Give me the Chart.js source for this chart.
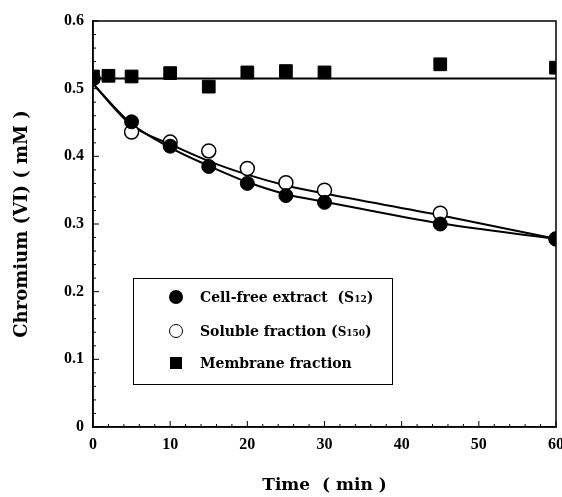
<!DOCTYPE html>
<html>
<head>
<meta charset="utf-8">
<script src="https://cdn.jsdelivr.net/npm/chart.js@4.4.1/dist/chart.umd.min.js"></script>
<style>
  html, body { margin: 0; padding: 0; background: #fff; }
  #wrap { position: relative; width: 562px; height: 497px; }
  #legend {
    position: absolute; left: 133px; top: 278px; width: 260px; height: 107px;
    border: 1.5px solid #000; box-sizing: border-box;
    font-family: "DejaVu Serif", serif; font-weight: bold; font-size: 14px; color: #000;
  }
  .row { position: absolute; left: 0; height: 20px; line-height: 20px; white-space: nowrap; }
  .mk { position: absolute; left: 35px; top: 3px; width: 14px; height: 14px; box-sizing: border-box; }
  .txt { position: absolute; left: 66px; top: 0; }
  .sub { font-size: 9px; }
</style>
</head>
<body>
<div id="wrap">
  <canvas id="chart" width="562" height="497"></canvas>
  <div id="legend">
    <div class="row" style="top:8px"><span class="mk" style="background:#000;border-radius:50%"></span><span class="txt">Cell-free extract&nbsp; (S<span class="sub">12</span>)</span></div>
    <div class="row" style="top:42px"><span class="mk" style="border:1.5px solid #000;border-radius:50%"></span><span class="txt">Soluble fraction (<span style="font-size:12px">S</span><span class="sub">150</span>)</span></div>
    <div class="row" style="top:74px"><span class="mk" style="background:#000;width:12px;height:12px;left:36px;top:4px"></span><span class="txt">Membrane fraction</span></div>
  </div>
</div>
<script>
// measured values
const times = [0, 5, 10, 15, 20, 25, 30, 45, 60];
const cellFree = [0.515, 0.451, 0.415, 0.385, 0.360, 0.342, 0.332, 0.300, 0.278];
const soluble = [0.515, 0.436, 0.421, 0.408, 0.382, 0.361, 0.350, 0.316, 0.278];
const membraneTimes = [0, 2, 5, 10, 15, 20, 25, 30, 45, 60];
const membrane = [0.518, 0.519, 0.518, 0.523, 0.503, 0.524, 0.526, 0.524, 0.536, 0.531];

// fitted curves
const fitTimes = [0, 5, 10, 15, 20, 25, 30, 45, 60];
const cellFreeFit = [0.507, 0.448, 0.413, 0.386, 0.362, 0.344, 0.333, 0.301, 0.278];
const solubleFit = [0.507, 0.446, 0.418, 0.393, 0.373, 0.357, 0.345, 0.313, 0.278];
const membraneFitTimes = [0, 60];
const membraneFit = [0.515, 0.515];

const xTicks = [0, 10, 20, 30, 40, 50, 60];
const yTicks = [0, 0.1, 0.2, 0.3, 0.4, 0.5, 0.6];

const PLOT_RIGHT = 556;

const pts = (xs, ys) => xs.map((x, i) => ({ x, y: ys[i] }));
const serif = (size) => ({ family: "'Liberation Serif', serif", weight: "bold", size });
const wide = (size) => ({ family: "'DejaVu Serif', serif", weight: "bold", size });

// stretch plot area to the right edge like the original figure
const stretch = {
  id: "stretch",
  afterLayout(chart) {
    const x = chart.scales.x;
    chart.chartArea.right = PLOT_RIGHT;
    chart.chartArea.width = PLOT_RIGHT - chart.chartArea.left;
    x.right = PLOT_RIGHT;
    x.width = PLOT_RIGHT - x.left;
    x.configure();
  },
};

// inward ticks + box border
const frame = {
  id: "frame",
  afterDraw(chart) {
    const { ctx, chartArea: a, scales } = chart;
    ctx.save();
    ctx.strokeStyle = "#000";
    ctx.lineWidth = 1.5;
    ctx.strokeRect(a.left, a.top, a.right - a.left, a.bottom - a.top);
    ctx.lineWidth = 1;
    for (let v = 0; v <= 60; v += 2) {
      const x = scales.x.getPixelForValue(v);
      const len = v % 10 === 0 ? 6 : 3;
      ctx.beginPath(); ctx.moveTo(x, a.bottom); ctx.lineTo(x, a.bottom - len); ctx.stroke();
    }
    for (let k = 0; k <= 30; k++) {
      const y = scales.y.getPixelForValue(k * 0.02);
      const len = k % 5 === 0 ? 6 : 3;
      ctx.beginPath(); ctx.moveTo(a.left, y); ctx.lineTo(a.left + len, y); ctx.stroke();
    }
    ctx.restore();
  },
};

new Chart(document.getElementById("chart"), {
  type: "scatter",
  data: {
    datasets: [
      { label: "Cell-free extract (S12)", data: pts(times, cellFree), pointStyle: "circle",
        pointRadius: 7, backgroundColor: "#000", borderColor: "#000", borderWidth: 1 },
      { label: "Soluble fraction (S150)", data: pts(times, soluble), pointStyle: "circle",
        pointRadius: 7, backgroundColor: "#fff", borderColor: "#000", borderWidth: 1.5 },
      { label: "Membrane fraction", data: pts(membraneTimes, membrane), pointStyle: "rect",
        pointRadius: 9, backgroundColor: "#000", borderColor: "#000", borderWidth: 1 },
      { label: "fit1", data: pts(fitTimes, cellFreeFit), showLine: true, pointRadius: 0,
        borderColor: "#000", borderWidth: 2, cubicInterpolationMode: "monotone" },
      { label: "fit2", data: pts(fitTimes, solubleFit), showLine: true, pointRadius: 0,
        borderColor: "#000", borderWidth: 2, cubicInterpolationMode: "monotone" },
      { label: "fit3", data: pts(membraneFitTimes, membraneFit), showLine: true, pointRadius: 0,
        borderColor: "#000", borderWidth: 2 },
    ],
  },
  options: {
    responsive: false,
    animation: false,
    layout: { padding: { top: 21, right: 6, left: 0, bottom: 0 } },
    plugins: { legend: { display: false }, tooltip: { enabled: false } },
    scales: {
      x: {
        type: "linear", min: 0, max: 60,
        afterBuildTicks: (s) => { s.ticks = xTicks.map((v) => ({ value: v })); },
        afterFit: (s) => { s.height = 70; },
        grid: { display: false, drawTicks: false },
        border: { display: true, color: "#000", width: 1.5 },
        ticks: { color: "#000", font: serif(16), padding: 8, callback: (v) => String(v) },
        title: { display: true, text: "Time  ( min )", color: "#000", font: wide(17), padding: { top: 0, bottom: 1 } },
      },
      y: {
        type: "linear", min: 0, max: 0.6,
        afterBuildTicks: (s) => { s.ticks = yTicks.map((v) => ({ value: v })); },
        afterFit: (s) => { s.width = 93; },
        grid: { display: false, drawTicks: false },
        border: { display: true, color: "#000", width: 1.5 },
        ticks: { color: "#000", font: serif(16), padding: 9, callback: (v) => (v === 0 ? "0" : v.toFixed(1)) },
        title: { display: true, text: "Chromium (VI) ( mM )", color: "#000", font: wide(18), padding: { top: 12, bottom: 0 } },
      },
    },
  },
  plugins: [stretch, frame],
});
</script>
</body>
</html>
